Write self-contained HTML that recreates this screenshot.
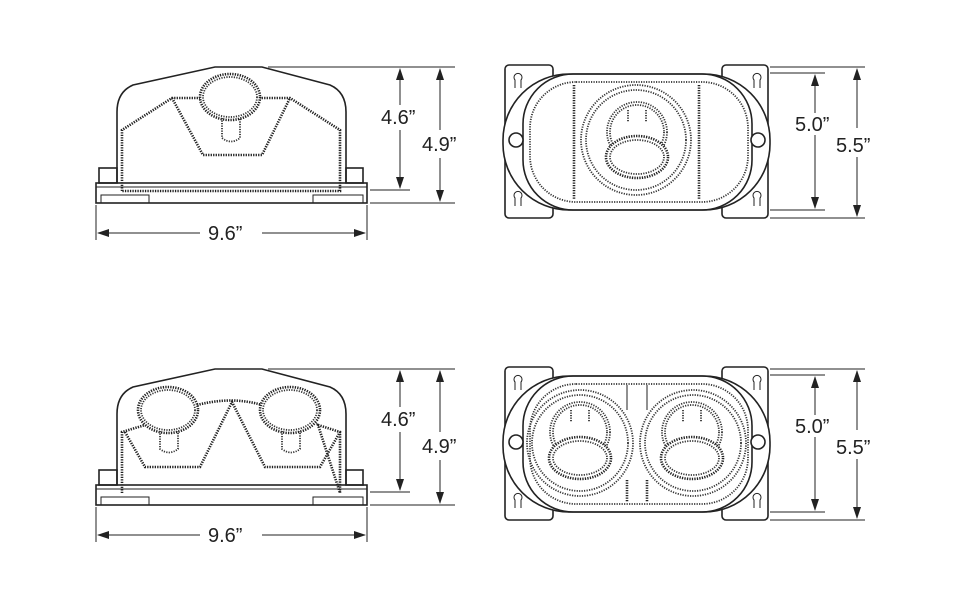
<!DOCTYPE html>
<html><head><meta charset="utf-8"><style>
html,body{margin:0;padding:0;background:#fff;width:960px;height:600px;overflow:hidden}
svg{display:block}
text{font-family:"Liberation Sans",sans-serif;font-size:20px;fill:#222}
.s{fill:none;stroke:#222;stroke-width:1.6}
.w{fill:#fff;stroke:#222;stroke-width:1.6}
.t{fill:none;stroke:#222;stroke-width:1}
.d{fill:none;stroke:#222;stroke-width:2.6;stroke-dasharray:1.3 1.2}
.dw{fill:#fff;stroke:#222;stroke-width:2.6;stroke-dasharray:1.3 1.2}
.d2{fill:none;stroke:#333;stroke-width:1.8;stroke-dasharray:1.2 1.3}
</style></head><body>
<svg width="960" height="600" viewBox="0 0 960 600">
<defs>
<marker id="a" markerWidth="12" markerHeight="8" refX="11" refY="4" orient="auto" markerUnits="userSpaceOnUse"><path d="M0,0 L12,4 L0,8 Z" fill="#222"/></marker>
<g id="base">
<rect class="s" x="96" y="183" width="271" height="20"/>
<line class="t" x1="96" y1="187" x2="367" y2="187"/>
<path class="t" d="M101,203 L101,195 L149,195 L149,203"/>
<path class="t" d="M313,203 L313,195 L363,195 L363,203"/>
<rect class="s" x="99" y="168" width="18" height="15"/>
<rect class="s" x="346" y="168" width="17" height="15"/>
<path class="s" d="M117,183 L117,112 Q117,92 133,85 L215,67 L262,67 L330,85 Q346,92 346,112 L346,183"/>
</g>
<g id="plan">
<rect class="s" x="505" y="65" width="48" height="153" rx="4"/>
<rect class="s" x="722" y="65" width="46" height="153" rx="4"/>
<rect class="w" x="503" y="74" width="267" height="136" rx="66"/>
<rect class="s" x="523" y="74" width="229" height="136" rx="50"/>
<rect class="d2" x="530" y="82" width="218" height="120" rx="46"/>
<circle class="w" cx="516" cy="140" r="7"/>
<circle class="w" cx="758" cy="140" r="7"/>
<path class="t" d="M515,88 L515,80 A4,4 0 1,1 521,80 L521,88" />
<path class="t" d="M515,206 L515,198 A4,4 0 1,1 521,198 L521,206"/>
<path class="t" d="M754,88 L754,80 A4,4 0 1,1 760,80 L760,88"/>
<path class="t" d="M754,206 L754,198 A4,4 0 1,1 760,198 L760,206"/>
<g class="t"><line x1="770" y1="67" x2="865" y2="67"/><line x1="770" y1="73" x2="825" y2="73"/><line x1="770" y1="210" x2="825" y2="210"/><line x1="770" y1="218" x2="865" y2="218"/></g>
<line class="t" x1="815" y1="125" x2="815" y2="75" marker-end="url(#a)"/>
<line class="t" x1="815" y1="135" x2="815" y2="208" marker-end="url(#a)"/>
<line class="t" x1="857" y1="128" x2="857" y2="69" marker-end="url(#a)"/>
<line class="t" x1="857" y1="155" x2="857" y2="216" marker-end="url(#a)"/>
<rect x="795" y="113" width="40" height="22" fill="#fff"/>
<rect x="836" y="133" width="48" height="24" fill="#fff"/>
<text x="795" y="131">5.0”</text>
<text x="836" y="152">5.5”</text>
</g>
<g id="sdim">
<g class="t"><line x1="268" y1="67" x2="455" y2="67"/><line x1="370" y1="190" x2="410" y2="190"/><line x1="370" y1="203" x2="455" y2="203"/>
<line x1="96" y1="205" x2="96" y2="240"/><line x1="367" y1="205" x2="367" y2="240"/></g>
<line class="t" x1="400" y1="105" x2="400" y2="69" marker-end="url(#a)"/>
<line class="t" x1="400" y1="130" x2="400" y2="188" marker-end="url(#a)"/>
<line class="t" x1="440" y1="130" x2="440" y2="69" marker-end="url(#a)"/>
<line class="t" x1="440" y1="158" x2="440" y2="201" marker-end="url(#a)"/>
<line class="t" x1="200" y1="233" x2="98" y2="233" marker-end="url(#a)"/>
<line class="t" x1="262" y1="233" x2="365" y2="233" marker-end="url(#a)"/>
<rect x="378" y="105" width="44" height="24" fill="#fff"/>
<rect x="420" y="132" width="44" height="24" fill="#fff"/>
<text x="381" y="124">4.6”</text>
<text x="422" y="151">4.9”</text>
<text x="208" y="240">9.6”</text>
</g>
</defs>

<use href="#base"/>
<path class="d" d="M122,191 L122,130 L172,98 L290,98 L340,130 L340,191 Z"/>
<path class="d" d="M172,98 L203,155 L262,155 L290,98"/>
<ellipse class="dw" cx="230" cy="97" rx="30" ry="23"/>
<ellipse class="d2" cx="230" cy="97" rx="27" ry="20"/>
<path class="d2" d="M222,118 L222,138 Q231,145 240,138 L240,118"/>
<use href="#sdim"/>

<use href="#plan"/>
<line class="d" x1="574" y1="85" x2="574" y2="200"/>
<line class="d" x1="699" y1="85" x2="699" y2="200"/>
<circle class="d2" cx="636" cy="140" r="55"/>
<circle class="d2" cx="636" cy="140" r="50"/>
<circle class="d2" cx="637" cy="132" r="30"/>
<circle class="d2" cx="637" cy="132" r="27"/>
<path class="d2" d="M628,110 L628,122 M646,110 L646,122"/>
<ellipse class="dw" cx="637" cy="157" rx="31" ry="21"/>
<ellipse class="d2" cx="637" cy="157" rx="27" ry="17"/>

<g transform="translate(0,302)">
<use href="#base"/>
<use href="#sdim"/>
<use href="#plan"/>
</g>
<path class="d" d="M122,493 L122,432 L145,425 M197,405 Q232,396 262,405 M318,425 L340,432 L340,493 Z"/>
<path class="d" d="M125,432 L145,467 L200,467 L232,402 L265,467 L320,467 L340,432"/>
<ellipse class="dw" cx="168" cy="410" rx="30" ry="23"/>
<ellipse class="d2" cx="168" cy="410" rx="27" ry="20"/>
<path class="d2" d="M160,431 L160,449 Q169,456 178,449 L178,431"/>
<ellipse class="dw" cx="290" cy="410" rx="30" ry="23"/>
<ellipse class="d2" cx="290" cy="410" rx="27" ry="20"/>
<path class="d2" d="M282,431 L282,449 Q291,456 300,449 L300,431"/>

<g>
<line class="t" x1="627" y1="385" x2="627" y2="410"/><line class="t" x1="647" y1="385" x2="647" y2="410"/>
<line class="d" x1="627" y1="480" x2="627" y2="502"/><line class="d" x1="647" y1="480" x2="647" y2="502"/>
<circle class="d2" cx="580" cy="443" r="53"/><circle class="d2" cx="580" cy="443" r="48"/>
<circle class="d2" cx="693" cy="443" r="53"/><circle class="d2" cx="693" cy="443" r="48"/>
<circle class="d2" cx="580" cy="432" r="30"/><circle class="d2" cx="580" cy="432" r="27"/>
<circle class="d2" cx="692" cy="432" r="30"/><circle class="d2" cx="692" cy="432" r="27"/>
<path class="d2" d="M571,410 L571,422 M589,410 L589,422 M683,410 L683,422 M701,410 L701,422"/>
<ellipse class="dw" cx="580" cy="458" rx="31" ry="21"/><ellipse class="d2" cx="580" cy="458" rx="27" ry="17"/>
<ellipse class="dw" cx="692" cy="458" rx="31" ry="21"/><ellipse class="d2" cx="692" cy="458" rx="27" ry="17"/>
</g>
</svg>
</body></html>
